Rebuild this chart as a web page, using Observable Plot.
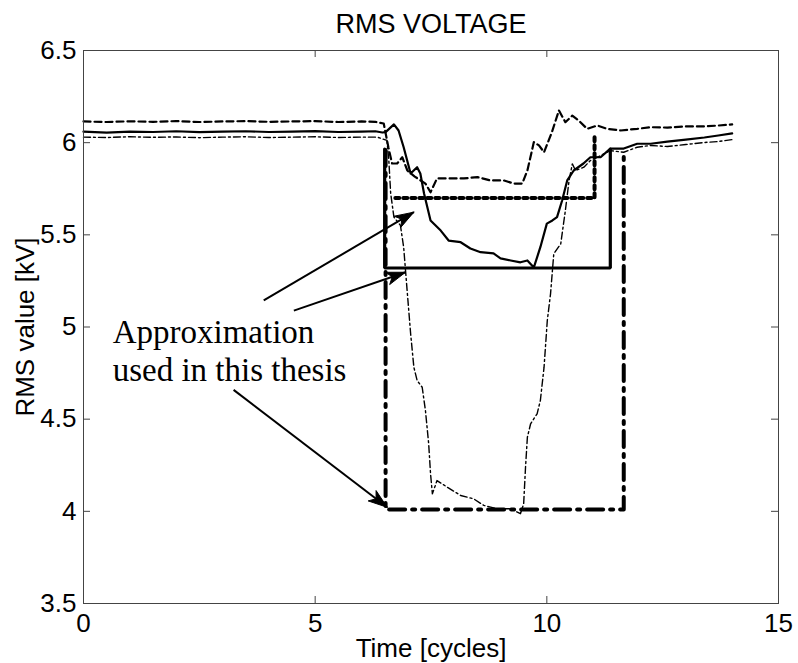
<!DOCTYPE html>
<html><head><meta charset="utf-8">
<script src="https://cdn.jsdelivr.net/npm/d3@7"></script>
<script src="https://cdn.jsdelivr.net/npm/@observablehq/plot@0.6"></script>
<style>body{margin:0;background:#fff}</style>
</head><body><div id="chart"></div>
<script>
// ---- texts & ticks ----
const titleText = "RMS VOLTAGE";
const xLabel = "Time [cycles]";
const yLabel = "RMS value [kV]";
const xTicks = [0, 5, 10, 15];
const yTicks = [3.5, 4, 4.5, 5, 5.5, 6, 6.5];
const xDomain = [0, 15];
const yDomain = [3.5, 6.5];

// ---- measured curves [time (cycles), rms (kV)] ----
const measSolid = [
  [0,6.06],[0.5,6.055],[1,6.06],[1.5,6.058],[2,6.062],[2.5,6.057],[3,6.06],[3.5,6.062],[4,6.058],[4.5,6.06],
  [5,6.063],[5.5,6.058],[6,6.06],[6.3,6.062],[6.45,6.055],[6.52,6.057],[6.70,6.099],[6.80,6.066],[6.91,5.975],
  [7.06,5.833],[7.20,5.867],[7.27,5.833],[7.35,5.724],[7.49,5.578],[7.71,5.523],[7.88,5.469],[8.14,5.460],
  [8.35,5.426],[8.57,5.406],[8.85,5.399],[9.00,5.372],[9.22,5.361],[9.43,5.351],[9.58,5.361],[9.72,5.323],
  [9.86,5.433],[10.0,5.561],[10.12,5.578],[10.22,5.596],[10.33,5.686],[10.44,5.795],[10.58,5.849],[10.79,5.887],
  [10.94,5.921],[11.16,5.921],[11.37,5.968],[11.66,5.968],[11.95,5.994],[12.24,5.994],[12.6,6.006],[13.0,6.017],
  [13.4,6.028],[13.7,6.039],[14.0,6.05]
];
const measDashed = [
  [0,6.115],[0.5,6.112],[1,6.116],[1.5,6.113],[2,6.117],[2.5,6.112],[3,6.115],[3.5,6.117],[4,6.113],[4.5,6.115],
  [5,6.117],[5.5,6.112],[6,6.115],[6.3,6.113],[6.48,6.104],[6.58,5.975],[6.66,5.887],[6.77,5.887],[6.88,5.921],
  [6.99,5.849],[7.15,5.816],[7.38,5.778],[7.49,5.731],[7.63,5.806],[7.92,5.806],[8.21,5.806],[8.50,5.813],
  [8.78,5.795],[9.07,5.795],[9.29,5.778],[9.47,5.778],[9.58,5.849],[9.72,6.003],[9.83,5.985],[9.94,5.948],
  [10.11,6.057],[10.26,6.175],[10.40,6.111],[10.55,6.147],[10.69,6.120],[10.87,6.075],[11.09,6.093],[11.30,6.075],
  [11.59,6.066],[11.95,6.075],[12.24,6.084],[12.6,6.082],[13.0,6.088],[13.4,6.088],[13.7,6.093],[14.0,6.099]
];
const measDashDot = [
  [0,6.03],[0.5,6.028],[1,6.032],[1.5,6.029],[2,6.031],[2.5,6.027],[3,6.03],[3.5,6.032],[4,6.028],[4.5,6.03],
  [5,6.032],[5.5,6.028],[6,6.03],[6.34,6.03],[6.55,6.012],[6.59,5.903],[6.63,5.724],[6.70,5.596],[6.84,5.551],
  [6.91,5.433],[6.99,5.182],[7.06,4.965],[7.13,4.782],[7.20,4.710],[7.31,4.673],[7.38,4.547],[7.45,4.366],
  [7.49,4.204],[7.53,4.095],[7.63,4.167],[7.85,4.131],[8.14,4.086],[8.42,4.068],[8.64,4.032],[8.93,4.014],
  [9.22,4.014],[9.43,3.987],[9.50,4.041],[9.54,4.239],[9.58,4.402],[9.65,4.475],[9.79,4.529],[9.86,4.601],
  [9.94,4.782],[10.01,5.035],[10.08,5.180],[10.15,5.397],[10.30,5.451],[10.40,5.632],[10.48,5.795],[10.55,5.885],
  [10.62,5.849],[10.80,5.867],[10.94,5.903],[11.16,5.930],[11.37,5.957],[11.66,5.948],[11.95,5.975],[12.24,5.985],
  [12.6,5.979],[13.0,5.990],[13.4,6.001],[13.7,6.006],[14.0,6.017]
];

// ---- rectangular approximations ----
const approxSolid = [[6.5,5.965],[6.5,5.32],[11.37,5.32],[11.37,5.965]];
const approxDotted = [[6.73,5.70],[11.03,5.70],[11.03,6.03]];
const approxDashDot = [[6.52,5.96],[6.52,4.01],[11.66,4.01],[11.66,5.95]];

// ---- annotation ----
const noteLines = [
  {x: 0.63, y: 4.912, text: "Approximation"},
  {x: 0.63, y: 4.705, text: "used in this thesis"}
];
const noteArrows = [
  {x1: 3.89, y1: 5.144, x2: 7.13, y2: 5.623},
  {x1: 4.54, y1: 5.089, x2: 6.95, y2: 5.297},
  {x1: 3.24, y1: 4.659, x2: 6.555, y2: 4.022}
];

// ---- layout ----
const W = 798, H = 663, ML = 83, MR = 20, MT = 50, MB = 60;
const plotW = W - ML - MR, plotH = H - MT - MB;
const TICK = 7;
const frameColor = "#444";

// scales identical to the plot's, used for pixel-space arrowheads and label placement
const sx = Plot.scale({x: {type: "linear", domain: xDomain, range: [ML, W - MR]}});
const sy = Plot.scale({y: {type: "linear", domain: yDomain, range: [H - MB, MT]}});
const heads = [];
noteArrows.forEach((a, i) => {
  const px1 = sx.apply(a.x1), py1 = sy.apply(a.y1), px2 = sx.apply(a.x2), py2 = sy.apply(a.y2);
  const dx = px2 - px1, dy = py2 - py1, len = Math.hypot(dx, dy);
  const ux = dx / len, uy = dy / len, nx = -uy, ny = ux;
  const L = 19, Hw = 6.5, N = 5;
  const pts = [
    [px2, py2],
    [px2 - L * ux + Hw * nx, py2 - L * uy + Hw * ny],
    [px2 - (L - N) * ux, py2 - (L - N) * uy],
    [px2 - L * ux - Hw * nx, py2 - L * uy - Hw * ny],
    [px2, py2]
  ];
  pts.forEach(p => heads.push({id: i, x: sx.invert(p[0]), y: sy.invert(p[1])}));
});
const yLabelX = sx.invert(25);
const yLabelY = (yDomain[0] + yDomain[1]) / 2;

const X = d => d[0], Y = d => d[1];

const chart = Plot.plot({
  width: W, height: H,
  marginLeft: ML, marginRight: MR, marginTop: MT, marginBottom: MB,
  style: {fontFamily: "'Liberation Sans', Arial, Helvetica, sans-serif", fontSize: "26px", background: "#fff", color: "#000"},
  x: {domain: xDomain, nice: false, label: null},
  y: {domain: yDomain, nice: false, label: null},
  marks: [
    // measured curves
    Plot.line(measSolid, {x: X, y: Y, stroke: "#000", strokeWidth: 2.2, strokeLinejoin: "round"}),
    Plot.line(measDashed, {x: X, y: Y, stroke: "#000", strokeWidth: 2.2, strokeDasharray: "7,4", strokeLinejoin: "round"}),
    Plot.line(measDashDot, {x: X, y: Y, stroke: "#000", strokeWidth: 1.4, strokeDasharray: "7,3,2,3", strokeLinejoin: "round"}),
    // approximations
    Plot.line(approxSolid, {x: X, y: Y, stroke: "#000", strokeWidth: 3.2, strokeLinejoin: "miter"}),
    Plot.line(approxDotted, {x: X, y: Y, stroke: "#000", strokeWidth: 4, strokeDasharray: "4,4"}),
    Plot.line(approxDashDot, {x: X, y: Y, stroke: "#000", strokeWidth: 4, strokeDasharray: "16,7,3,7"}),
    // frame & inward ticks
    Plot.frame({stroke: frameColor, strokeWidth: 1}),
    Plot.tickX(xTicks, {x: d => d, insetTop: plotH - TICK, stroke: frameColor}),
    Plot.tickX(xTicks, {x: d => d, insetBottom: plotH - TICK, stroke: frameColor}),
    Plot.tickY(yTicks, {y: d => d, insetRight: plotW - TICK, stroke: frameColor}),
    Plot.tickY(yTicks, {y: d => d, insetLeft: plotW - TICK, stroke: frameColor}),
    // tick labels
    Plot.axisX({ticks: xTicks, tickSize: 0, tickPadding: 10, tickFormat: d => String(d), label: null, fontSize: 26}),
    Plot.axisY({ticks: yTicks, tickSize: 0, tickPadding: 7, tickFormat: d => String(d), label: null, fontSize: 26}),
    // titles
    Plot.text([titleText], {text: d => d, frameAnchor: "top", dy: -26, fontSize: 27, lineAnchor: "middle"}),
    Plot.text([xLabel], {text: d => d, frameAnchor: "bottom", dy: 45, fontSize: 26, lineAnchor: "middle"}),
    Plot.text([yLabel], {x: () => yLabelX, y: () => yLabelY, text: d => d, rotate: -90, fontSize: 26,
      textAnchor: "middle", lineAnchor: "middle"}),
    // annotation
    Plot.text(noteLines, {x: "x", y: "y", text: "text", textAnchor: "start", lineAnchor: "bottom",
      fontFamily: "'Liberation Serif', 'Times New Roman', serif", fontSize: 33, fill: "#000"}),
    Plot.link(noteArrows, {x1: "x1", y1: "y1", x2: "x2", y2: "y2", stroke: "#000", strokeWidth: 2}),
    Plot.line(heads, {x: "x", y: "y", z: "id", fill: "#000", stroke: "#000", strokeWidth: 1, strokeLinejoin: "miter"})
  ]
});
document.getElementById("chart").appendChild(chart);
</script>
</body></html>
